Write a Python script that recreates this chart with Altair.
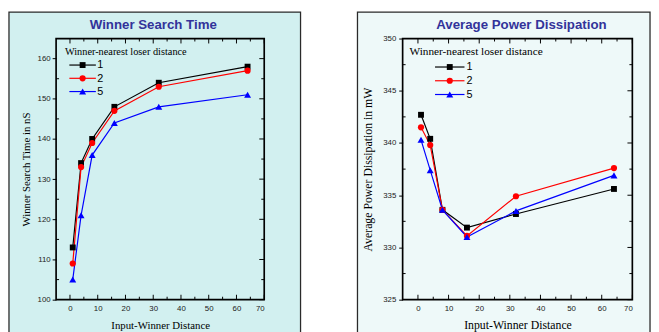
import altair as alt
import pandas as pd

# ---------------- data ----------------
x_vals = [1, 4, 8, 16, 32, 64]
series_names = ["1", "2", "5"]
series_colors = ["#000000", "#ff0000", "#0000ff"]
series_shapes = ["square", "circle", "triangle-up"]

search_1 = [113, 134, 140, 148, 154, 158]
search_2 = [109, 133, 139, 147, 153, 157]
search_5 = [105, 121, 136, 144, 148, 151]

power_1 = [342.7, 340.4, 333.6, 331.9, 333.2, 335.6]
power_2 = [341.5, 339.8, 333.6, 331.1, 334.9, 337.6]
power_5 = [340.3, 337.4, 333.6, 331.0, 333.5, 336.9]

x_major = [0, 10, 20, 30, 40, 50, 60, 70]
x_minor = [5, 15, 25, 35, 45, 55, 65]
search_major = [100, 110, 120, 130, 140, 150, 160]
search_minor = [105, 115, 125, 135, 145, 155]
power_major = [325, 330, 335, 340, 345, 350]
power_minor = [327.5, 332.5, 337.5, 342.5, 347.5]

legend_title = "Winner-nearest loser distance"

SERIF = "Liberation Serif"
SANS = "Liberation Sans"


def long_df(vals):
    rows = []
    for name, ys in zip(series_names, vals):
        for x, y in zip(x_vals, ys):
            rows.append({"x": x, "v": y, "series": name})
    return pd.DataFrame(rows)


def panel(vals, title, ytitle, ydomain, ymajor, yminor, w, h, o):
    df = long_df(vals)
    one = pd.DataFrame({"k": [0]})
    xs = alt.Scale(domain=[-5, 70], nice=False, zero=False)
    ys = alt.Scale(domain=ydomain, nice=False, zero=False)
    cscale = alt.Scale(domain=series_names, range=series_colors)

    xaxis = alt.Axis(values=x_major, title="Input-Winner Distance", titleFont=SERIF,
                     titleFontSize=o["xtfs"], titleFontWeight="normal", titleColor="#000",
                     titlePadding=o["xtp"], labelFont=SANS, labelFontSize=8, labelColor="#222",
                     labelPadding=5, ticks=False, domain=False, grid=False, zindex=2)
    yaxis = alt.Axis(values=ymajor, title=ytitle, titleFont=SERIF,
                     titleFontSize=o["ytfs"], titleFontWeight="normal", titleColor="#000",
                     titlePadding=o["ytp"], labelFont=SANS, labelFontSize=8, labelColor="#222",
                     labelPadding=o["ylp"], ticks=True, tickSize=4, tickColor="#000", tickWidth=1,
                     domain=False, grid=False, zindex=2)

    X = lambda f: alt.X(f, scale=xs, axis=xaxis)
    Y = lambda f: alt.Y(f, scale=ys, axis=yaxis)

    bg = alt.Chart(one).mark_rect(fill=o["bg"], stroke="#2a2a2a", strokeWidth=1.3).encode(
        x=alt.value(o["bx0"]), x2=alt.value(o["bx1"]),
        y=alt.value(o["by0"]), y2=alt.value(o["by1"]))

    frame = alt.Chart(one).mark_rect(fillOpacity=0, stroke="#000000", strokeWidth=1.7).encode(
        x=alt.value(0), x2=alt.value(w), y=alt.value(0), y2=alt.value(h))

    ttl = alt.Chart(one).mark_text(
        text=title, font=SANS, fontSize=13.5, fontWeight="bold", color="#33339a",
        align="center", baseline="alphabetic").encode(
        x=alt.value(o["tx"]), y=alt.value(o["ty"]))

    lines = alt.Chart(df).mark_line(strokeWidth=1.2).encode(
        x=X("x:Q"), y=Y("v:Q"),
        color=alt.Color("series:N", scale=cscale, legend=None),
        detail="series:N")

    pts = []
    for name, shp, sz in zip(series_names, series_shapes, [36, 40, 50]):
        pts.append(alt.Chart(df).transform_filter(alt.datum.series == name).mark_point(
            filled=True, shape=shp, size=sz, opacity=1).encode(
            x=X("x:Q"), y=Y("v:Q"),
            color=alt.Color("series:N", scale=cscale, legend=None)))

    def ticks(vals_, channel, length, side):
        d = pd.DataFrame({"x": vals_} if channel == "x" else {"v": vals_})
        c = alt.Chart(d).mark_rule(color="#000", strokeWidth=1)
        if channel == "x":
            enc = dict(x=X("x:Q"))
            if side == "bottom":
                enc.update(y=alt.value(h), y2=alt.value(h - length))
            else:
                enc.update(y=alt.value(0), y2=alt.value(length))
        else:
            enc = dict(y=Y("v:Q"))
            if side == "left":
                enc.update(x=alt.value(0), x2=alt.value(length))
            else:
                enc.update(x=alt.value(w), x2=alt.value(w - length))
        return c.encode(**enc)

    tick_layers = [
        ticks(x_major, "x", 5, "bottom"), ticks(x_minor, "x", 3, "bottom"),
        ticks(x_major, "x", 5, "top"), ticks(x_minor, "x", 3, "top"),
        ticks(yminor, "y", 3, "left"),
        ticks(ymajor, "y", 5, "right"), ticks(yminor, "y", 3, "right"),
    ]

    # legend (drawn as a key block inside the plot)
    leg_layers = [alt.Chart(one).mark_text(
        text=legend_title, font=SERIF, fontSize=o["ltfs"], color="#000",
        align="left", baseline="alphabetic").encode(x=alt.value(o["lx"]), y=alt.value(o["ly"]))]
    for i, (name, col, shp, sz) in enumerate(zip(series_names, series_colors, series_shapes, [36, 40, 50])):
        ry = o["rows"][i]
        leg_layers.append(alt.Chart(one).mark_rule(color=col, strokeWidth=1.2).encode(
            x=alt.value(o["lc"] - o["lh"]), x2=alt.value(o["lc"] + o["lh"]), y=alt.value(ry)))
        leg_layers.append(alt.Chart(one).mark_point(filled=True, shape=shp, size=sz, color=col,
                                                    opacity=1).encode(
            x=alt.value(o["lc"]), y=alt.value(ry)))
        leg_layers.append(alt.Chart(one).mark_text(
            text=name, font=SANS, fontSize=11, color="#000", align="left",
            baseline="middle").encode(x=alt.value(o["llab"]), y=alt.value(ry + 0.5)))

    return alt.layer(bg, ttl, *tick_layers, lines, *pts, frame, *leg_layers).properties(
        width=w, height=h)


left = panel([search_1, search_2, search_5], "Winner Search Time", "Winner Search Time in nS",
             [100, 165], search_major, search_minor, 212, 266,
             dict(bg="#d2f0f0", bx0=-48, bx1=249, by0=-27, by1=305, tx=99, ty=-10,
                  xtfs=11, xtp=7, ytfs=11, ytp=6, ylp=2,
                  lx=9, ly=16.5, ltfs=10.5, lc=27, lh=13.5, llab=42, rows=[27, 40.5, 54]))
right = panel([power_1, power_2, power_5], "Average Power Dissipation", "Average Power Dissipation in mW",
              [325, 350], power_major, power_minor, 234, 266,
              dict(bg="#eef9f9", bx0=-46, bx1=252, by0=-27, by1=305, tx=121, ty=-10,
                   xtfs=12, xtp=7, ytfs=12, ytp=8, ylp=3,
                   lx=7, ly=16.5, ltfs=11.5, lc=48, lh=15, llab=65, rows=[29, 43, 57]))

chart = alt.hconcat(left, right, spacing=141, bounds="flush", padding=0).configure(
    background="#ffffff", padding=0, view=alt.ViewConfig(stroke=None))

chart.save("out.html", embed_options={"renderer": "svg", "actions": False})
